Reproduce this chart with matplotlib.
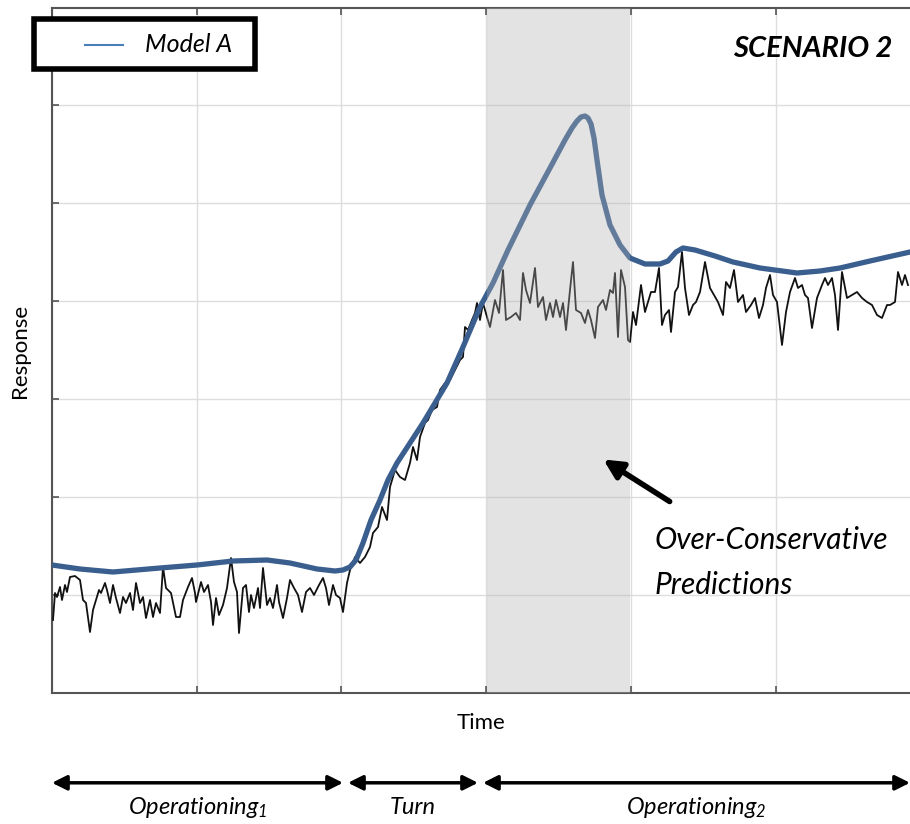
import matplotlib
matplotlib.use("Agg")
import matplotlib.pyplot as plt
from matplotlib.patches import Rectangle
from matplotlib.lines import Line2D
import numpy as np

plt.rcParams['font.family'] = ['Lato', 'DejaVu Sans']
plt.rcParams['mathtext.fontset'] = 'custom'
plt.rcParams['mathtext.rm'] = 'Lato:italic'
plt.rcParams['mathtext.it'] = 'Lato:italic'

# measured response (noisy trace)
meas_t = [1, 3, 5, 8, 10, 13, 15, 18, 23, 28, 31, 34, 38, 41, 44, 47, 49, 53, 55, 58,
          61, 64, 68, 71, 74, 78, 81, 84, 88, 91, 94, 98, 101, 104, 108, 111, 114, 119, 124, 128,
          131, 136, 140, 143, 144, 149, 152, 156, 159, 161, 164, 167, 171, 175, 179, 182, 185, 187, 191, 194,
          197, 199, 202, 206, 208, 211, 215, 218, 221, 225, 227, 231, 235, 238, 242, 246, 250, 254, 258, 262,
          267, 271, 274, 277, 281, 284, 288, 291, 295, 298, 303, 308, 313, 318, 321, 326, 330, 335, 338, 343,
          348, 353, 358, 361, 365, 368, 373, 376, 380, 385, 388, 393, 398, 403, 408, 411, 413, 416, 420, 423,
          425, 428, 431, 435, 438, 443, 447, 451, 454, 459, 464, 468, 471, 474, 478, 483, 486, 491, 494, 498,
          501, 504, 508, 511, 514, 518, 521, 524, 529, 533, 536, 539, 543, 546, 551, 554, 558, 561, 563, 566,
          569, 573, 576, 578, 581, 584, 589, 593, 596, 599, 603, 607, 610, 613, 617, 619, 623, 626, 630, 633,
          637, 641, 644, 648, 653, 658, 662, 666, 671, 674, 678, 682, 686, 691, 694, 699, 703, 707, 711, 714,
          718, 721, 725, 730, 734, 738, 743, 746, 750, 753, 756, 760, 765, 770, 773, 776, 780, 783, 786, 790,
          795, 800, 805, 810, 815, 820, 825, 830, 835, 838, 843, 846, 850, 853, 856]
meas_y = [73, 100, 96, 106, 93, 108, 101, 116, 117, 113, 93, 90, 61, 83, 93, 103, 100, 110, 103, 90,
          108, 95, 80, 96, 90, 100, 83, 110, 90, 96, 75, 93, 76, 90, 80, 126, 105, 100, 76, 76,
          93, 106, 115, 100, 91, 111, 101, 108, 91, 68, 95, 78, 88, 105, 135, 111, 101, 60, 105, 108,
          81, 98, 85, 105, 85, 125, 88, 95, 85, 108, 91, 75, 95, 113, 105, 98, 81, 101, 105, 98,
          108, 115, 105, 88, 108, 98, 95, 81, 110, 123, 136, 130, 136, 146, 160, 166, 186, 173, 206, 223,
          216, 213, 230, 246, 233, 256, 270, 273, 283, 286, 303, 310, 313, 323, 333, 336, 366, 363, 373, 380,
          390, 373, 390, 376, 366, 393, 380, 423, 373, 376, 380, 373, 420, 403, 390, 425, 386, 396, 373, 390,
          376, 393, 376, 390, 363, 403, 431, 383, 380, 370, 383, 373, 355, 386, 393, 383, 403, 400, 420, 356,
          423, 406, 353, 351, 381, 368, 408, 381, 391, 401, 401, 425, 368, 378, 383, 361, 401, 406, 441, 405,
          378, 388, 391, 401, 431, 405, 398, 391, 378, 411, 405, 423, 391, 398, 381, 388, 395, 375, 388, 405,
          418, 398, 391, 348, 381, 401, 415, 405, 408, 398, 395, 365, 395, 408, 415, 408, 415, 398, 363, 421,
          395, 398, 401, 395, 391, 388, 378, 375, 388, 388, 391, 421, 408, 418, 408]

# Model A prediction
model_t = [0, 28, 61, 108, 145, 181, 215, 238, 265, 283, 291, 298, 304, 311, 319, 328, 336, 345, 358, 371,
           383, 395, 411, 428, 441, 456, 478, 498, 513, 520, 525, 529, 533, 536, 539, 542, 545, 550, 558, 568,
           578, 593, 608, 616, 624, 631, 643, 663, 681, 708, 745, 768, 788, 818, 858]
model_y = [128, 124, 121, 125, 128, 132, 133, 130, 124, 122, 123, 126, 133, 150, 173, 193, 213, 230, 250, 270,
           290, 310, 346, 386, 410, 443, 488, 525, 553, 565, 572, 576, 577, 575, 569, 555, 533, 498, 468, 448,
           435, 429, 429, 432, 441, 445, 443, 437, 431, 425, 420, 422, 425, 432, 441]

# phases along the time axis
phase_edges = [0, 291, 296, 426, 431, 858]
phase_names = ['Operationing$_1$', 'Turn', 'Operationing$_2$']
shade_span = (435, 578)

W, H = 910, 824
fig = plt.figure(figsize=(W / 100, H / 100), dpi=100)
ax = fig.add_axes([52 / W, 131 / H, 858 / W, 685 / H])

ax.plot(meas_t, meas_y, color='#111111', lw=1.3, zorder=3)
ax.plot(model_t, model_y, color='#3a5f8f', lw=3.8, zorder=4,
        solid_capstyle='round', solid_joinstyle='round')
ax.axvspan(*shade_span, color='#b0b0b0', alpha=0.35, lw=0, zorder=5)

# legend box, drawn in figure pixels
fig.patches.append(Rectangle((34 / W, 1 - 69 / H), 221 / W, 50 / H, transform=fig.transFigure,
                             facecolor='white', edgecolor='black', lw=4, zorder=10))
fig.lines.append(Line2D([85 / W, 123 / W], [1 - 45 / H, 1 - 45 / H], transform=fig.transFigure,
                        color='#4a7ebb', lw=1.5, zorder=11))
fig.text(145 / W, 1 - 45 / H, 'Model A', ha='left', va='center', fontsize=18,
         style='italic', zorder=11)

ax.text(0.98, 0.94, 'SCENARIO 2', transform=ax.transAxes, ha='right', va='center',
        fontsize=21, fontweight='bold', style='italic')

ax.annotate('', xy=(549, 235), xytext=(620, 190),
            arrowprops=dict(arrowstyle='-|>', lw=4, color='black', mutation_scale=28),
            zorder=6)
ax.text(603, 167, 'Over-Conservative\nPredictions', ha='left', va='top',
        fontsize=21.5, style='italic', linespacing=1.75)

ax.set_xlim(0, 858)
ax.set_ylim(0, 685)
ax.set_xticks(np.arange(0, 858, 144.7))
ax.set_yticks(np.arange(0, 685, 98))
ax.set_xticklabels([])
ax.set_yticklabels([])
ax.tick_params(direction='in', length=5, width=1.2, color='#555555', top=True)
ax.grid(True, color='#dddddd', lw=1)
for side in ['left', 'bottom', 'top']:
    ax.spines[side].set_color('#555555')
    ax.spines[side].set_linewidth(1.5)
ax.spines['right'].set_visible(False)

ax.set_xlabel('Time', fontsize=16, labelpad=11)
ax.set_ylabel('Response', fontsize=16, labelpad=12)

# phase arrows under the axis
for i, name in enumerate(phase_names):
    t0, t1 = phase_edges[2 * i], phase_edges[2 * i + 1]
    ax.annotate('', xy=(t0, 0.05), xytext=(t1, 0.05),
                xycoords=('data', 'figure fraction'), textcoords=('data', 'figure fraction'),
                arrowprops=dict(arrowstyle='<|-|>', lw=2.5, color='black',
                                mutation_scale=22, shrinkA=0, shrinkB=0),
                annotation_clip=False)
    ax.annotate(name, xy=((t0 + t1) / 2, 0.02), xycoords=('data', 'figure fraction'),
                ha='center', va='center', fontsize=17, style='italic', annotation_clip=False)

fig.savefig('out.png', dpi=100)
